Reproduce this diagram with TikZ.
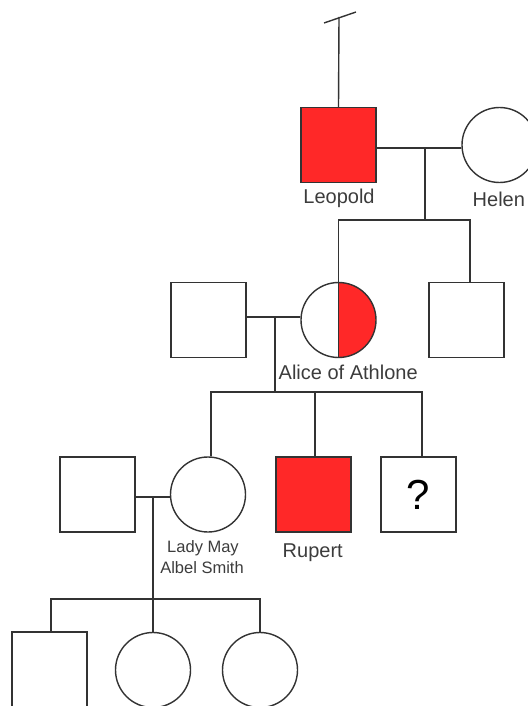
\documentclass[tikz,border=0pt]{standalone}
\usepackage{fontspec}
\setmainfont{Liberation Sans}
\definecolor{aff}{RGB}{255,40,40}
\definecolor{lnc}{RGB}{51,51,51}
\definecolor{lbc}{RGB}{60,60,60}
\begin{document}
\begin{tikzpicture}[x=1pt,y=-1pt,line width=1.4pt,
  sq/.style={rectangle, draw=lnc, minimum size=75pt, inner sep=0pt},
  pc/.style={circle, draw=lnc, minimum size=75pt, inner sep=0pt},
  affected/.style={fill=aff},
  halfaff/.style={path picture={\fill[aff] (path picture bounding box.north) rectangle (path picture bounding box.south east);}},
  lbl/.style={text=lbc, font=\fontsize{20}{24}\selectfont, inner sep=0pt},
  smalllbl/.style={text=lbc, font=\fontsize{16.5}{20}\selectfont, inner sep=0pt},
  conn/.style={draw=lnc}
]
\useasboundingbox (0,0) rectangle (527,706);

% generation 1
\node[sq,affected] (leo) at (338.5,145) {};
\node[pc] (helen) at (499.5,145) {};
\coordinate (topend) at (339,17);
\coordinate (tickA) at (324,23);
\coordinate (tickB) at (356,12);
\draw[conn] (leo.north) -- (topend);
\draw[conn] (tickA) -- (tickB);
\draw[conn] ([yshift=-3pt]leo.east) -- ([yshift=-3pt]helen.west);
\coordinate (m1) at (425,148);
\coordinate (s1) at (425,220);
\draw[conn] (m1) -- (s1);

% generation 2
\node[sq] (hus1) at (208.5,320) {};
\node[pc,halfaff] (alice) at (338.5,320) {};
\draw[conn] (alice.north) -- (alice.south);
\node[sq] (bro) at (466.5,320) {};
\draw[conn] (alice.north) -- (alice.north |- s1) -- ([xshift=3.5pt]bro.north |- s1) -- ([xshift=3.5pt]bro.north);
\draw[conn] ([yshift=3pt]hus1.east) -- ([yshift=3pt]alice.west);
\coordinate (m2) at (275,317);
\coordinate (s2) at (275,392);
\draw[conn] (m2) -- (s2);

% generation 3
\node[sq] (hus2) at (97.5,494.5) {};
\node[pc] (may) at (208,494.5) {};
\node[sq,affected] (rupert) at (313.5,494.5) {};
\node[sq,font=\fontsize{42}{44}\selectfont] (unk) at (418.5,494.5) {?};
\draw[conn] ([xshift=3pt]may.north) -- ([xshift=3pt]may.north |- s2) -- ([xshift=3.5pt]unk.north |- s2) -- ([xshift=3.5pt]unk.north);
\draw[conn] ([xshift=1.5pt]rupert.north) -- ([xshift=1.5pt]rupert.north |- s2);
\draw[conn] ([yshift=-2.5pt]hus2.east) -- ([yshift=-2.5pt]may.west);
\coordinate (m3) at (153,497);
\coordinate (s3) at (153,599);
\draw[conn] (m3) -- (s3);

% generation 4
\node[sq] (c1) at (49.5,669.5) {};
\node[pc] (c2) at (153,670) {};
\node[pc] (c3) at (260,670) {};
\draw[conn] ([xshift=1.5pt]c1.north) -- ([xshift=1.5pt]c1.north |- s3) -- (c3.north |- s3) -- (c3.north);
\draw[conn] (s3) -- (c2.north);

% labels
\node[lbl, anchor=base] (leolbl) at (339,203) {Leopold};
\node[lbl, anchor=base west] (hellbl) at (472,206) {Helen};
\node[lbl, anchor=base west] (alicelbl) at (278,379) {Alice of Athlone};
\node[smalllbl, anchor=base] (maylbl1) at (203,552) {Lady May};
\node[smalllbl, anchor=base] (maylbl2) at (202,573) {Albel Smith};
\node[lbl, anchor=base west] (ruplbl) at (282,557) {Rupert};
\end{tikzpicture}
\end{document}
